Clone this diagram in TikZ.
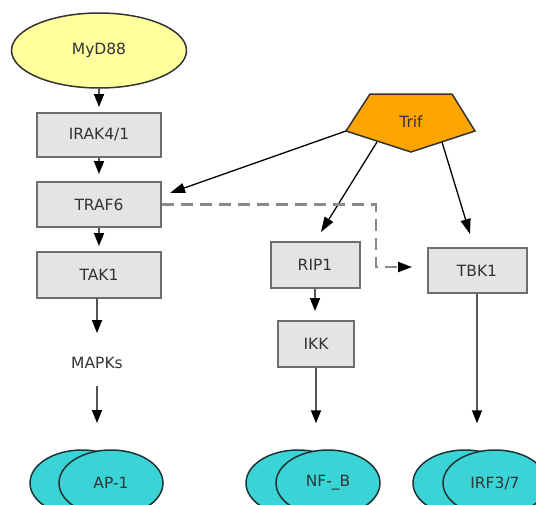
\documentclass[tikz,border=0pt]{standalone}
\usepackage{fontspec}
\setmainfont{DejaVu Sans}
\usetikzlibrary{arrows.meta,shapes.geometric}
\definecolor{boxfill}{HTML}{E4E4E4}
\definecolor{boxline}{HTML}{6E6E6E}
\definecolor{txt}{HTML}{333333}
\definecolor{myfill}{HTML}{FFFF9E}
\definecolor{triffill}{HTML}{FFA500}
\definecolor{tffill}{HTML}{3AD4D6}
\definecolor{tfline}{HTML}{1E3434}
\definecolor{connline}{HTML}{555555}
\definecolor{dashline}{HTML}{8A8A8A}
\tikzset{
  lbl/.style={font=\fontsize{15.5}{18}\selectfont, text=txt},
  protbox/.style={lbl, draw=boxline, line width=2pt, fill=boxfill, rectangle, inner sep=0pt},
  tfell/.style={ellipse, draw=tfline, line width=1.5pt, fill=tffill, minimum width=104pt, minimum height=66pt, inner sep=0pt},
  conn/.style={draw=connline, line width=1.8pt, -{Triangle[length=13pt,width=10pt,color=black]}},
  thinconn/.style={draw=black, line width=1.3pt, -{Triangle[length=15pt,width=10pt,color=black]}},
  dashconn/.style={draw=dashline, line width=2.2pt, dash pattern=on 12pt off 7pt, -{Triangle[length=14pt,width=10pt,color=black]}},
}
\begin{document}
\begin{tikzpicture}[x=1pt, y=-1pt]
\useasboundingbox (0,0) rectangle (536,504);

% adaptor proteins
\node[ellipse, draw=txt, line width=1.5pt, fill=myfill, minimum width=175pt, minimum height=75pt, lbl] (myd) at (99,50.5) {MyD88};

\fill[triffill, draw=txt, line width=1.5pt] (370,94) -- (452,94) -- (475,131) -- (411,152) -- (346,131) -- cycle;
\node[lbl] (trif) at (411,122) {Trif};
\coordinate (trifL) at (346,131);
\coordinate (trifBL) at (377,142);
\coordinate (trifBR) at (442,142);

% kinase cascade
\node[protbox, minimum width=124pt, minimum height=44pt] (irak) at (99,135) {IRAK4/1};
\node[protbox, minimum width=124pt, minimum height=45pt] (traf) at (99,204.5) {TRAF6};
\node[protbox, minimum width=124pt, minimum height=46pt] (tak) at (99,275) {TAK1};
\node[lbl] (mapks) at (97,363) {MAPKs};
\node[protbox, minimum width=89pt, minimum height=46pt] (rip) at (315,265) {RIP1};
\node[protbox, minimum width=76pt, minimum height=46pt] (ikk) at (316,344) {IKK};
\node[protbox, minimum width=99pt, minimum height=45pt] (tbk) at (477,270.5) {TBK1};

% transcription factors (dimers)
\node[tfell] (ap1b) at (82,483) {};
\node[tfell, lbl] (ap1) at (111,483) {AP-1};
\node[tfell] (nfb) at (298,483) {};
\node[tfell, lbl] (nf) at (328,483) {NF-\_B};
\node[tfell] (irfb) at (465,483) {};
\node[tfell, lbl] (irf) at (495,483) {IRF3/7};

% arrow end points
\coordinate (trafIn) at (170,193);
\coordinate (ripIn) at (321,232);
\coordinate (tbkIn) at (470,234);
\coordinate (takOut) at (97,298);
\coordinate (mapIn) at (97,333);
\coordinate (mapOut) at (97,386);
\coordinate (apIn) at (97,423);
\coordinate (dA) at (376,204.5);
\coordinate (dB) at (376,267);
\coordinate (dC) at (412,267);

% connectors
\draw[conn, shorten >=5pt] (myd) -- (irak);
\draw[conn, shorten >=7pt] (irak) -- (traf);
\draw[conn, shorten >=5pt] (traf) -- (tak);
\draw[conn] (takOut) -- (mapIn);
\draw[conn] (mapOut) -- (apIn);
\draw[conn, shorten >=9pt] (rip) -- (rip|-ikk.north);
\draw[conn, shorten >=26pt] (ikk.south) -- (ikk.south|-nf.north);
\draw[conn, shorten >=26pt] (tbk.south) -- (tbk.south|-irf.north);

\draw[thinconn] (trifL) -- (trafIn);
\draw[thinconn] (trifBL) -- (ripIn);
\draw[thinconn] (trifBR) -- (tbkIn);

\draw[dashconn] (traf.east) -- (dA) -- (dB) -- (dC);
\end{tikzpicture}
\end{document}
